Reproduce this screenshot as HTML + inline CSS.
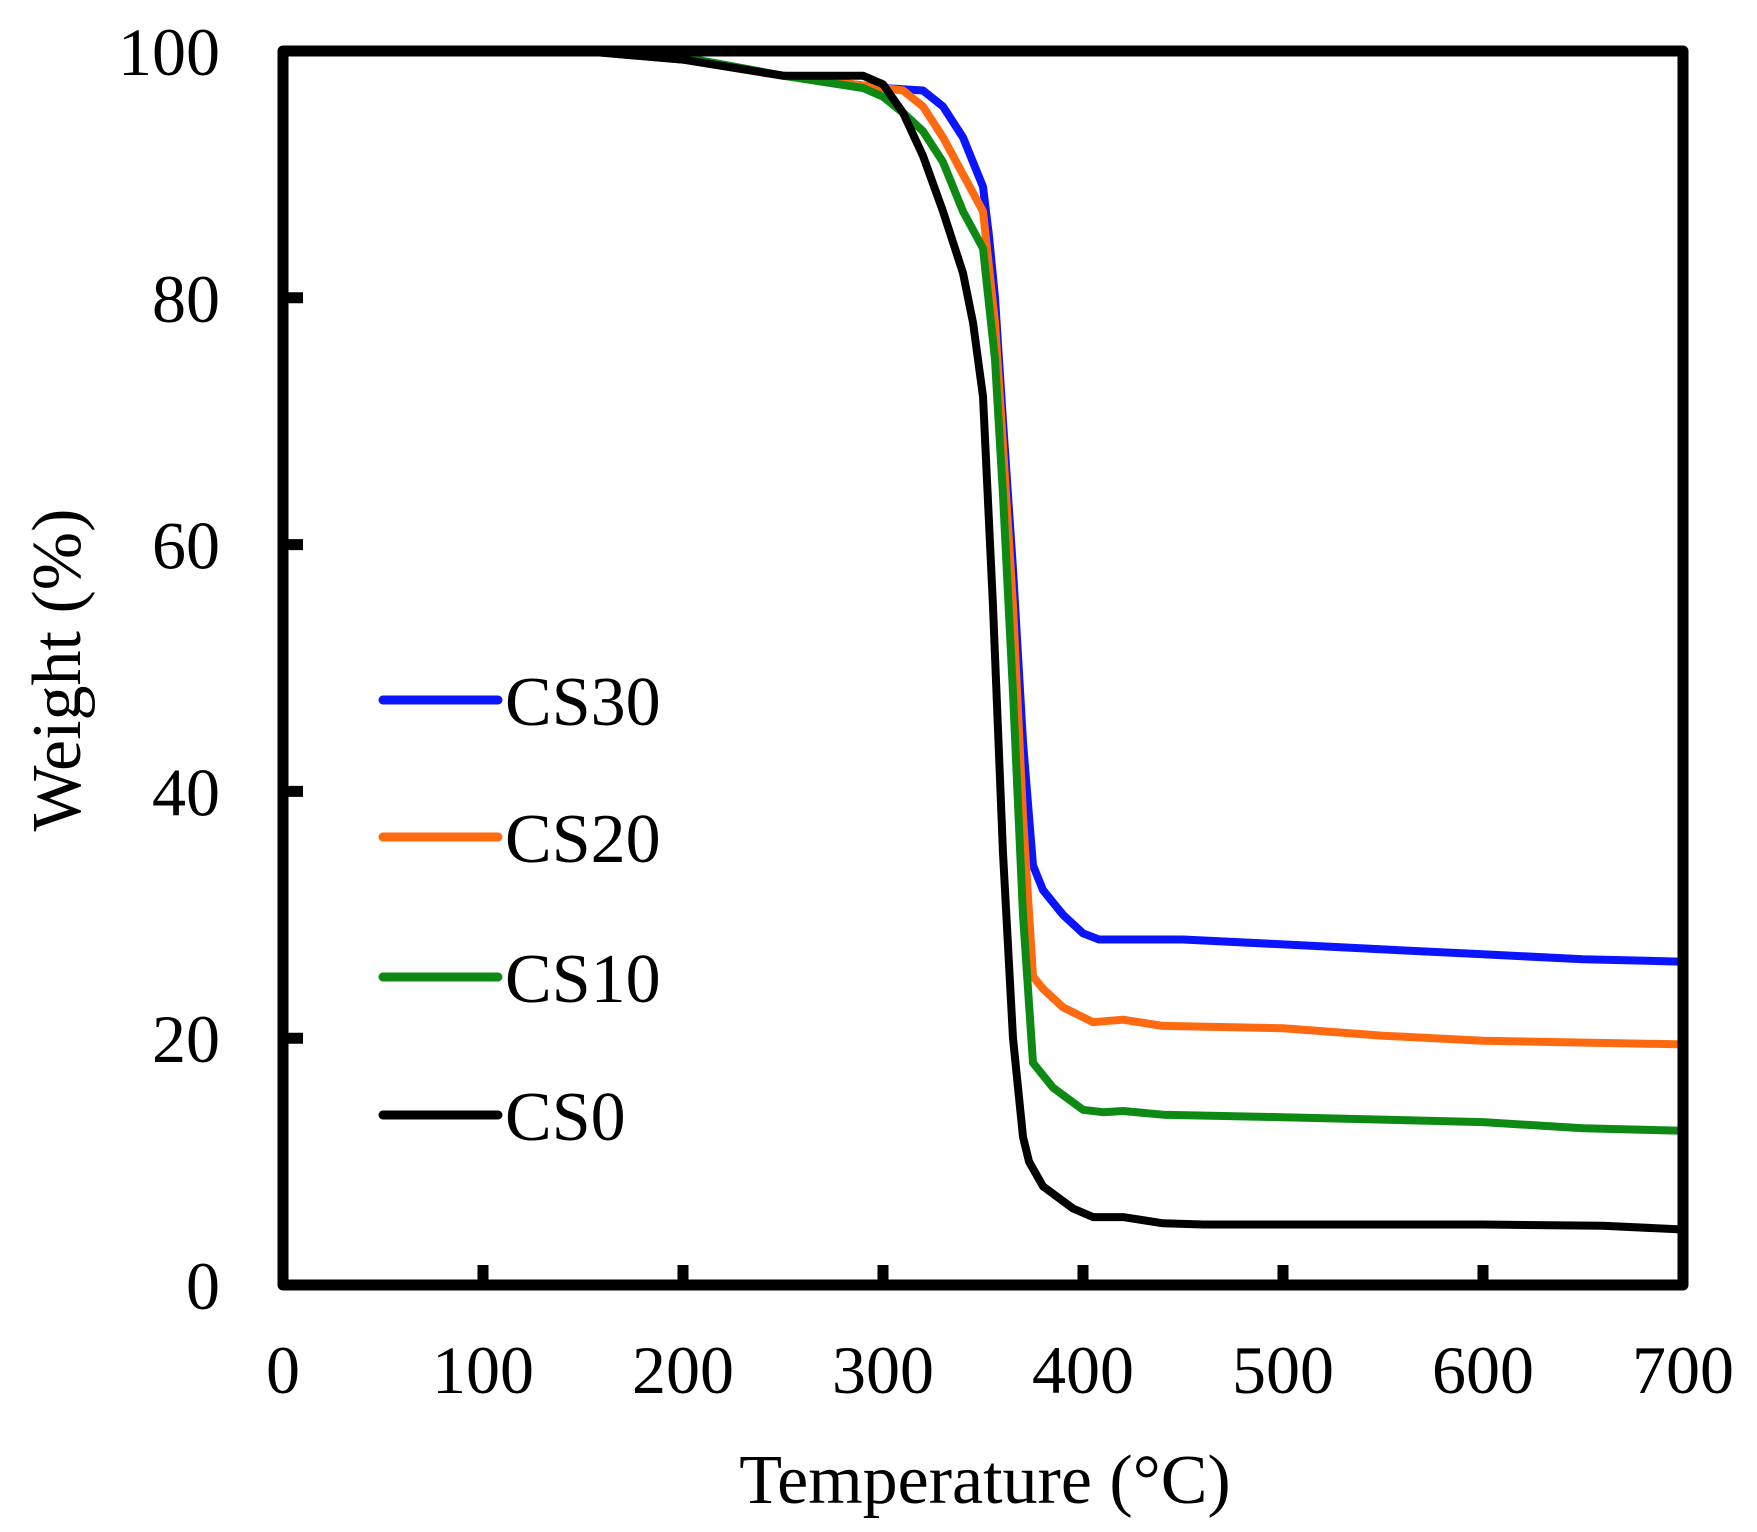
<!DOCTYPE html>
<html><head><meta charset="utf-8"><style>
body{margin:0;background:#fff}
svg{display:block;font-family:"Liberation Serif",serif}
</style></head><body>
<svg id="chart" width="1757" height="1532" viewBox="0 0 1757 1532">
<g id="series"></g>
<g id="axes"></g>
<g id="legend"></g>
<text x="985" y="1503" font-size="70" text-anchor="middle">Temperature  (°C)</text>
<text transform="translate(80,670) rotate(-90)" font-size="70" text-anchor="middle">Weight (%)</text>
</svg>
<script>
const xTicks=[0,100,200,300,400,500,600,700];
const yTicks=[0,20,40,60,80,100];
const seriesNames=["CS30","CS20","CS10","CS0"];
const seriesColors=["#0a14ff","#ff6a10","#0e8a14","#000000"];
const cs30T=[150,200,250,300,320,330,340,345,350,353,356,360,365,370,375,380,390,400,408,420,450,500,550,600,650,700];
const cs30W=[100,99.3,98,97,96.8,95.5,93,91,89,85,80,70,58,44,34,32,30,28.5,28,28,28,27.6,27.2,26.8,26.4,26.2];
const cs20T=[150,200,250,300,310,320,330,340,350,356,360,365,370,375,380,390,405,420,440,500,550,600,700];
const cs20W=[100,99.3,98,97,96.8,95.5,93,90,87,78,68,55,38,25,24,22.5,21.3,21.5,21,20.8,20.2,19.8,19.5];
const cs10T=[150,200,250,290,300,310,320,330,340,350,356,360,365,370,375,385,400,410,420,440,500,600,650,700];
const cs10W=[100,99.5,98,97,96.3,95,93.5,91,87,84,75,64,48,30,18,16,14.2,14,14.1,13.8,13.6,13.2,12.7,12.5];
const cs0T=[150,200,250,270,290,300,310,320,330,340,345,350,355,360,365,370,373,380,395,405,420,440,460,600,660,700];
const cs0W=[100,99.3,98,98,98,97.3,95,91.5,87,82,78,72,55,35,20,12,10,8,6.2,5.5,5.5,5,4.9,4.9,4.8,4.5];
const allT=[cs30T,cs20T,cs10T,cs0T], allW=[cs30W,cs20W,cs10W,cs0W];
const NS="http://www.w3.org/2000/svg";
const X0=283,X1=1683,Y0=1285,Y1=51;
const sx=t=>X0+(t-0)/700*(X1-X0);
const sy=w=>Y0-(w-0)/100*(Y0-Y1);
function mk(tag,attrs,parent){const e=document.createElementNS(NS,tag);for(const k in attrs)e.setAttribute(k,attrs[k]);parent.appendChild(e);return e;}
const sg=document.getElementById('series');
for(let i=0;i<4;i++){
  const d=allT[i].map((t,j)=>(j?'L':'M')+sx(t).toFixed(1)+','+sy(allW[i][j]).toFixed(1)).join('');
  const p=mk('path',{d:d,fill:'none',stroke:seriesColors[i],'stroke-width':8,'stroke-linejoin':'round','stroke-linecap':'round'},sg);
  
  
}
const ax=document.getElementById('axes');
const frame=mk('rect',{x:X0,y:Y1,width:X1-X0,height:Y0-Y1,fill:'none',stroke:'#000','stroke-width':11,'stroke-linejoin':'round'},ax);


xTicks.forEach(t=>{
  const l=mk('line',{x1:sx(t),x2:sx(t),y1:Y0,y2:Y0-20,stroke:'#000','stroke-width':11},ax);
  
  
  const tx=mk('text',{x:sx(t),y:1393,'font-size':68,'text-anchor':'middle'},ax);tx.textContent=t;
  
  
});
yTicks.forEach(w=>{
  const l=mk('line',{x1:X0,x2:X0+20,y1:sy(w),y2:sy(w),stroke:'#000','stroke-width':11},ax);
  
  
  const tx=mk('text',{x:220,y:sy(w)+24,'font-size':68,'text-anchor':'end'},ax);tx.textContent=w;
  
  
});
const lg=document.getElementById('legend');
const ly=[700,837,977,1115];
for(let i=0;i<4;i++){
  const l=mk('line',{x1:383,x2:498,y1:ly[i],y2:ly[i],stroke:seriesColors[i],'stroke-width':9,'stroke-linecap':'round'},lg);
  
  
  const tx=mk('text',{x:505,y:ly[i]+25,'font-size':70},lg);tx.textContent=seriesNames[i];
  
  
}
</script>
</body></html>
